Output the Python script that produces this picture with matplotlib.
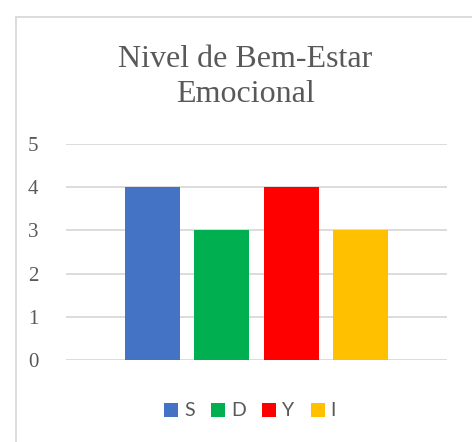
import matplotlib.pyplot as plt
from matplotlib.lines import Line2D

# dados
series = ["S", "D", "Y", "I"]
valores = [4, 3, 4, 3]
cores = ["#4472C4", "#00B050", "#FF0000", "#FFC000"]
yticks = [0, 1, 2, 3, 4, 5]

W, H = 472, 442
fig = plt.figure(figsize=(W / 100, H / 100), dpi=100)

# borda cinza do gráfico (só topo e esquerda aparecem)
fig.add_artist(Line2D([15.5 / W, 15.5 / W], [0, 1 - 16.5 / H], transform=fig.transFigure,
                      color="#D9D9D9", lw=1.3))
fig.add_artist(Line2D([15.5 / W, 1], [1 - 16.5 / H, 1 - 16.5 / H], transform=fig.transFigure,
                      color="#D9D9D9", lw=1.3))

ax = fig.add_axes([66 / W, 1 - 360 / H, 381 / W, (360 - 144) / H])
for i, (s, v, c) in enumerate(zip(series, valores, cores)):
    ax.bar(i, v, width=0.797, color=c, label=s, zorder=3)

ax.set_xlim(1.5 - 2.76, 1.5 + 2.76)
ax.set_ylim(0, 5)
ax.set_yticks(yticks)
ax.set_xticks([])
ax.grid(axis="y", color="#D9D9D9", lw=1.3, zorder=0)
for sp in ax.spines.values():
    sp.set_visible(False)
ax.tick_params(axis="y", length=0, pad=20, labelsize=15, labelcolor="#595959")
for lab in ax.get_yticklabels():
    lab.set_fontfamily("Liberation Serif")

# título
fig.text(245 / W, 1 - 45 / H, "Nivel de Bem-Estar\nEmocional", ha="center", va="top",
         fontsize=23, family="Liberation Serif", color="#595959", linespacing=1.25)

# legenda
leg = fig.legend(loc="center", bbox_to_anchor=(250 / W, 1 - 411 / H), ncol=4, frameon=False,
                 prop={"family": "Lato", "size": 14}, handlelength=0.72, handleheight=0.72,
                 handletextpad=0.3, columnspacing=0.85, borderpad=0)
for t in leg.get_texts():
    t.set_color("#595959")

plt.savefig("out.png", dpi=100)
plt.close()
